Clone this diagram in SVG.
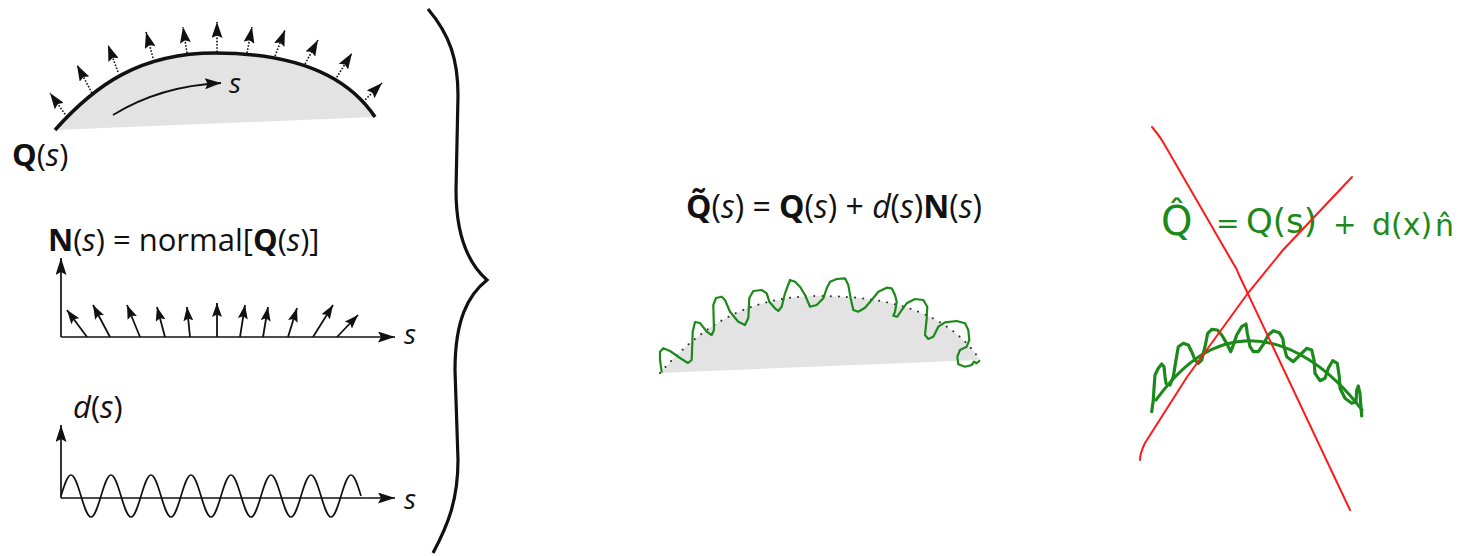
<svg xmlns="http://www.w3.org/2000/svg" width="1470" height="556" viewBox="0 0 1470 556">
<style>
.t{font-family:"Open Sans","Noto Sans",sans-serif;fill:#111}
.b{font-weight:bold}
.i{font-style:italic}
.ax{stroke:#111;stroke-width:1.7;fill:none}
.nd{stroke:#111;stroke-width:1.6;stroke-dasharray:1.6 1.6;fill:none}
.ns{stroke:#111;stroke-width:1.8;fill:none}
.hw{font-family:"DejaVu Sans",sans-serif;fill:#1b8a1b}
.red{stroke:#ff1a1a;stroke-width:2;fill:none;stroke-linecap:round}
.gw{fill:none;stroke:#1b8a1b;stroke-linejoin:round;stroke-linecap:round}
</style>
<defs>
<marker id="ah" viewBox="0 0 16 11" refX="16" refY="5.5" markerWidth="16" markerHeight="11" markerUnits="userSpaceOnUse" orient="auto"><path d="M0,0 L16,5.5 L0,11 L2.5,5.5 Z" fill="#111"/></marker>
<marker id="ahs" viewBox="0 0 14 10" refX="14" refY="5" markerWidth="14" markerHeight="10" markerUnits="userSpaceOnUse" orient="auto"><path d="M0,0 L14,5 L0,10 L2.5,5 Z" fill="#111"/></marker>
<marker id="axh" viewBox="0 0 17 11" refX="17" refY="5.5" markerWidth="17" markerHeight="11" markerUnits="userSpaceOnUse" orient="auto"><path d="M0,0 L17,5.5 L0,11 L3,5.5 Z" fill="#111"/></marker>
<path id="arc" d="M55,130 C95,85 140,53 215,53 C290,53 345,72 375,117"/>
</defs>
<rect width="1470" height="556" fill="#fff"/>

<g id="surface">
<path d="M55,130 C95,85 140,53 215,53 C290,53 345,72 375,117 Z" fill="#e3e3e3"/>
<use href="#arc" fill="none" stroke="#111" stroke-width="3.6"/>
<path d="M113,115 Q160,86 221,83" class="ns" marker-end="url(#ah)"/>
<text x="229" y="93" class="t i" font-size="28">s</text>
<text x="12" y="166" class="t" font-size="31"><tspan class="b">Q</tspan>(<tspan class="i">s</tspan>)</text>
</g>

<g id="normals">
<line x1="67" y1="117" x2="50" y2="93" class="nd" marker-end="url(#ah)"/>
<line x1="92" y1="93" x2="77" y2="65" class="nd" marker-end="url(#ah)"/>
<line x1="118" y1="72" x2="108" y2="45" class="nd" marker-end="url(#ah)"/>
<line x1="153" y1="58" x2="146" y2="32" class="nd" marker-end="url(#ah)"/>
<line x1="187" y1="53" x2="183" y2="27" class="nd" marker-end="url(#ah)"/>
<line x1="217" y1="52" x2="217" y2="22" class="nd" marker-end="url(#ah)"/>
<line x1="247" y1="53" x2="252" y2="27" class="nd" marker-end="url(#ah)"/>
<line x1="275" y1="56" x2="285" y2="30" class="nd" marker-end="url(#ah)"/>
<line x1="305" y1="64" x2="318" y2="40" class="nd" marker-end="url(#ah)"/>
<line x1="335" y1="80" x2="352" y2="53" class="nd" marker-end="url(#ah)"/>
<line x1="363" y1="102" x2="382" y2="83" class="nd" marker-end="url(#ah)"/>
</g>

<g id="normal-plot">
<text x="48" y="251" class="t" font-size="31"><tspan class="b">N</tspan>(<tspan class="i">s</tspan>) = normal[<tspan class="b">Q</tspan>(<tspan class="i">s</tspan>)]</text>
<line x1="61" y1="337" x2="61" y2="258" class="ax" marker-end="url(#axh)"/>
<line x1="61" y1="337" x2="395" y2="337" class="ax" marker-end="url(#axh)"/>
<text x="404" y="344" class="t i" font-size="28">s</text>
<line x1="87" y1="337" x2="67" y2="310" class="ns" marker-end="url(#ahs)"/>
<line x1="110" y1="337" x2="93" y2="305" class="ns" marker-end="url(#ahs)"/>
<line x1="140" y1="337" x2="127" y2="305" class="ns" marker-end="url(#ahs)"/>
<line x1="165" y1="337" x2="157" y2="307" class="ns" marker-end="url(#ahs)"/>
<line x1="190" y1="337" x2="187" y2="307" class="ns" marker-end="url(#ahs)"/>
<line x1="217" y1="337" x2="217" y2="303" class="ns" marker-end="url(#ahs)"/>
<line x1="240" y1="337" x2="245" y2="305" class="ns" marker-end="url(#ahs)"/>
<line x1="263" y1="337" x2="268" y2="307" class="ns" marker-end="url(#ahs)"/>
<line x1="288" y1="337" x2="297" y2="308" class="ns" marker-end="url(#ahs)"/>
<line x1="313" y1="337" x2="333" y2="305" class="ns" marker-end="url(#ahs)"/>
<line x1="337" y1="337" x2="358" y2="315" class="ns" marker-end="url(#ahs)"/>
</g>

<g id="displacement-plot">
<text x="73" y="418" class="t" font-size="31"><tspan class="i">d</tspan>(<tspan class="i">s</tspan>)</text>
<line x1="61" y1="498" x2="61" y2="425" class="ax" marker-end="url(#axh)"/>
<line x1="61" y1="498" x2="395" y2="498" class="ax" marker-end="url(#axh)"/>
<text x="404" y="509" class="t i" font-size="28">s</text>
<path class="ax" stroke-width="1.5" d="M61,496
c3.34,-11.03 6.4,-21 10,-21 c3.6,0 6.66,9.97 10,21 c3.34,11.03 6.4,21 10,21 c3.6,0 6.66,-9.97 10,-21
c3.34,-11.03 6.4,-21 10,-21 c3.6,0 6.66,9.97 10,21 c3.34,11.03 6.4,21 10,21 c3.6,0 6.66,-9.97 10,-21
c3.34,-11.03 6.4,-21 10,-21 c3.6,0 6.66,9.97 10,21 c3.34,11.03 6.4,21 10,21 c3.6,0 6.66,-9.97 10,-21
c3.34,-11.03 6.4,-21 10,-21 c3.6,0 6.66,9.97 10,21 c3.34,11.03 6.4,21 10,21 c3.6,0 6.66,-9.97 10,-21
c3.34,-11.03 6.4,-21 10,-21 c3.6,0 6.66,9.97 10,21 c3.34,11.03 6.4,21 10,21 c3.6,0 6.66,-9.97 10,-21
c3.34,-11.03 6.4,-21 10,-21 c3.6,0 6.66,9.97 10,21 c3.34,11.03 6.4,21 10,21 c3.6,0 6.66,-9.97 10,-21
c3.34,-11.03 6.4,-21 10,-21 c3.6,0 6.66,9.97 10,21 c3.34,11.03 6.4,21 10,21 c3.6,0 6.66,-9.97 10,-21
c3.34,-11.03 6.4,-21 10,-21 c3.6,0 6.66,9.97 10,21"/>
</g>

<g id="brace">
<path d="M428,9 C450,35 458,60 458,95 L456,190 C456,240 470,265 487,280 C468,295 455,320 455,370 L458,460 C458,500 448,525 433,553" fill="none" stroke="#111" stroke-width="3.2"/>
</g>

<g id="displaced-surface">
<text x="686" y="218" class="t" font-size="32"><tspan class="b">Q̃</tspan>(<tspan class="i">s</tspan>) = <tspan class="b">Q</tspan>(<tspan class="i">s</tspan>) + <tspan class="i">d</tspan>(<tspan class="i">s</tspan>)<tspan class="b">N</tspan>(<tspan class="i">s</tspan>)</text>
<g transform="translate(605,243)">
<path d="M55,130 C95,85 140,53 215,53 C290,53 345,72 375,117 Z" fill="#e3e3e3"/>
<use href="#arc" fill="none" stroke="#333" stroke-width="2" stroke-dasharray="0.1 8" stroke-linecap="round"/>
</g>
<path class="gw" stroke-width="2.2" d="M661.7,371.7 L660,360 L660,351.7 L663.3,348.3 L670,351 L680,358 L688,363 L691.7,360 L692.7,331.7 L695,322 L700,323 L706.7,331.7 L711.7,335 L714,330 L713.3,305 L716,298 L721.7,296.7 L725,300 L730,311.7 L738.3,321.7 L745,325 L748.3,318 L749.3,298 L753.3,291 L761.7,290 L766.7,293.3 L769.3,301.7 L775,308.3 L778.3,311 L781.7,306.7 L785,293.3 L790,280 L795,281.7 L800,286.7 L805,295 L810,306.7 L816.7,305 L823.3,298.3 L826.7,288.3 L830,281.7 L836.7,279 L845,278.3 L848.3,285 L850.7,298.3 L853.3,310 L858.3,311.7 L865,307.7 L871.7,300 L878.3,291.7 L886.7,287.7 L891.7,288.3 L895,295 L896.7,301.7 L895,311.7 L893.3,315.7 L897.3,316.7 L901.7,310 L906.7,303.3 L915,299 L923.3,300 L927.3,306.7 L926.7,318.3 L925,335 L928.3,339 L933.3,336.7 L938.3,326.7 L945,322.3 L956.7,321 L965,323.3 L968.3,330 L969.3,340 L966.7,346.7 L960,350 L957.3,356.7 L958.3,364.3 L965,366.7 L971.7,365 L974,361.7 L976.7,363.3 L979.3,361"/>
</g>

<g id="rejected-sketch">
<text x="1161" y="235" class="hw" font-size="40">Q̂</text>
<text x="1216" y="233" class="hw" font-size="28">=</text>
<text x="1246" y="233" class="hw" font-size="34">Q(s)</text>
<text x="1333" y="234" class="hw" font-size="28">+</text>
<text x="1372" y="235" class="hw" font-size="30">d(x)</text>
<text x="1435" y="236" class="hw" font-size="30">n̂</text>
<path class="gw" stroke-width="3" d="M1156,400 C1185,360 1215,341 1250,340.7 C1290,341 1330,368 1362,410"/>
<path class="gw" stroke-width="3.2" d="M1151.7,411.7 L1153.3,400 L1154,388.3 L1155,375 L1158.3,368.3 L1161.7,364 L1164,366.7 L1165,376.7 L1166,383.3 L1170,385 L1173.3,376.7 L1176,360 L1178.3,346.7 L1183.3,343.3 L1188.3,345 L1191.7,351.7 L1195,360 L1198.3,363.3 L1201.7,360 L1205,346.7 L1207.7,333.3 L1211.7,329.3 L1217.3,330 L1221.7,335 L1226.7,343.3 L1230.7,351.7 L1232.7,346.7 L1236.7,335 L1241.7,326.7 L1246,324 L1247.3,333.3 L1250,346.7 L1253.3,351.7 L1258.3,351.7 L1264,343.3 L1268.3,335 L1273.3,330.7 L1279.3,332.7 L1282.7,338.3 L1284,346.7 L1286.7,356.7 L1293.3,361.7 L1300,355 L1306.7,348.3 L1311.7,350 L1314,360 L1315,373.3 L1320,380.7 L1325,378.3 L1328.3,368.3 L1332.7,360.7 L1337.3,363.3 L1339.3,376.7 L1340,388.3 L1345,398.3 L1351.7,403.3 L1356,401.7 L1356.7,390 L1358.3,386 L1360,393.3 L1360.7,403.3 L1361.7,416"/>
<path class="red" d="M1152,127 C1157,133 1160,137 1163,142 L1237,270 C1238,273 1239,275 1240,277 L1350,510"/>
<path class="red" d="M1140,460 C1140,455 1142,449 1145,443 L1187,377 L1248,293 L1283,250 L1352,177"/>
</g>
</svg>
